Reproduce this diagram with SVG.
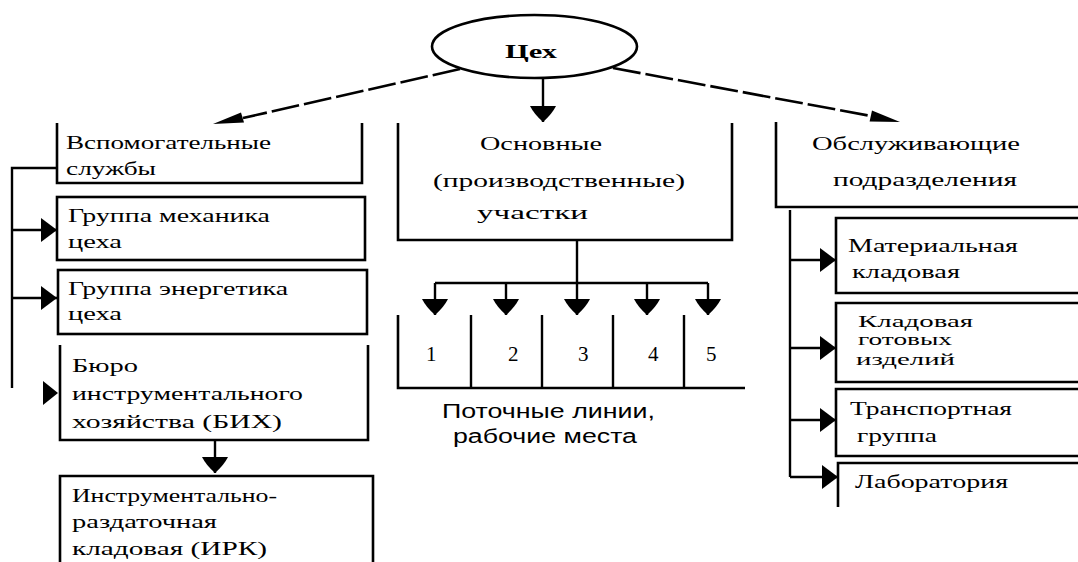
<svg xmlns="http://www.w3.org/2000/svg" width="1078" height="562" viewBox="0 0 1078 562">
<style>
.t{font-family:"Liberation Serif","Times New Roman",serif;font-size:19px;fill:#000}
.s{font-size:16px}
.n{font-family:"Liberation Serif",serif;font-size:21px;fill:#000}
.sans{font-family:"Liberation Sans",Arial,sans-serif;font-size:20px;fill:#000}
.b{fill:none;stroke:#000;stroke-width:2.6}
.c{fill:none;stroke:#000;stroke-width:2.4}
.d{fill:none;stroke:#000;stroke-width:2.6;stroke-dasharray:28 5}
.h{fill:#000}
</style>
<defs>
<marker id="ah" viewBox="0 0 16 24" refX="16" refY="12" markerWidth="16" markerHeight="24" markerUnits="userSpaceOnUse" orient="auto">
<path d="M0,0 L16,12 L0,24 Z" fill="#000"/>
</marker>
<marker id="ad" viewBox="0 0 16 26" refX="16" refY="13" markerWidth="16" markerHeight="26" markerUnits="userSpaceOnUse" orient="auto">
<path d="M0,0 Q8,4 16,13 Q8,22 0,26 Z" fill="#000"/>
</marker>
</defs>
<rect width="1078" height="562" fill="#fff"/>

<g id="connectors">
<path class="d" d="M460,69 L243,118"/>
<polygon class="h" points="213,124 241,112.6 244,122.6"/>
<path class="d" d="M613,68 L871,116"/>
<polygon class="h" points="900,122 869.6,121.6 872,110.6"/>
<path class="c" d="M543,78 L543,122" marker-end="url(#ad)"/>
<path class="c" d="M57,168 L12,168 L12,388"/>
<path class="c" d="M12,230 L57,230" marker-end="url(#ah)"/>
<path class="c" d="M12,298 L57,298" marker-end="url(#ah)"/>
<polygon class="h" points="43,381 58,393 43,405"/>
<path class="c" d="M215,440 L215,473" marker-end="url(#ad)"/>
<path class="c" d="M577,240 L577,283 M435,283 L708,283"/>
<path class="c" d="M435,283 L435,315" marker-end="url(#ad)"/>
<path class="c" d="M506,283 L506,315" marker-end="url(#ad)"/>
<path class="c" d="M577,283 L577,315" marker-end="url(#ad)"/>
<path class="c" d="M647,283 L647,315" marker-end="url(#ad)"/>
<path class="c" d="M708,283 L708,315" marker-end="url(#ad)"/>
<path class="c" d="M790,210 L790,477"/>
<path class="c" d="M790,260 L836,260" marker-end="url(#ah)"/>
<path class="c" d="M790,348 L836,348" marker-end="url(#ah)"/>
<path class="c" d="M790,420 L836,420" marker-end="url(#ah)"/>
<path class="c" d="M790,477 L838,477" marker-end="url(#ah)"/>
</g>

<g id="tseh">
<ellipse class="b" cx="534.5" cy="46.5" rx="102.5" ry="31.5"/>
<text class="t" x="505" y="58" font-size="24" font-weight="bold" textLength="52" lengthAdjust="spacingAndGlyphs">Цех</text>
</g>

<g id="vspom">
<path class="b" d="M57,123 L57,183 L362,183 L362,123"/>
<text class="t" x="66" y="149" textLength="205" lengthAdjust="spacingAndGlyphs">Вспомогательные</text>
<text class="t" x="66" y="175" textLength="90" lengthAdjust="spacingAndGlyphs">службы</text>
</g>

<g id="mech">
<rect class="b" x="57" y="197" width="308" height="63"/>
<text class="t" x="68" y="222" textLength="202" lengthAdjust="spacingAndGlyphs">Группа механика</text>
<text class="t" x="68" y="248" textLength="54" lengthAdjust="spacingAndGlyphs">цеха</text>
</g>

<g id="energ">
<rect class="b" x="58" y="270" width="309" height="64"/>
<text class="t" x="68" y="295" textLength="220" lengthAdjust="spacingAndGlyphs">Группа энергетика</text>
<text class="t" x="68" y="320" textLength="54" lengthAdjust="spacingAndGlyphs">цеха</text>
</g>

<g id="bih">
<path class="b" d="M60,345 L60,440 L368,440 L368,345"/>
<text class="t" x="72" y="372" textLength="66" lengthAdjust="spacingAndGlyphs">Бюро</text>
<text class="t" x="72" y="400" textLength="231" lengthAdjust="spacingAndGlyphs">инструментального</text>
<text class="t" x="72" y="428" textLength="210" lengthAdjust="spacingAndGlyphs">хозяйства (БИХ)</text>
</g>

<g id="irk">
<path class="b" d="M60,564 L60,476 L373,476 L373,564"/>
<text class="t" x="72" y="502" textLength="205" lengthAdjust="spacingAndGlyphs">Инструментально-</text>
<text class="t" x="72" y="528" textLength="145" lengthAdjust="spacingAndGlyphs">раздаточная</text>
<text class="t" x="72" y="555" textLength="195" lengthAdjust="spacingAndGlyphs">кладовая (ИРК)</text>
</g>

<g id="osnovnye">
<path class="b" d="M398,123 L398,240 L732,240 L732,123"/>
<text class="t" x="480" y="150" textLength="122" lengthAdjust="spacingAndGlyphs">Основные</text>
<text class="t" x="433" y="187" textLength="252" lengthAdjust="spacingAndGlyphs">(производственные)</text>
<text class="t" x="477" y="219" textLength="111" lengthAdjust="spacingAndGlyphs">участки</text>
</g>

<g id="linii">
<path class="b" d="M398,315 L398,388 L745,388"/>
<path class="c" d="M471,315 L471,388 M542,315 L542,388 M613,315 L613,388 M684,315 L684,388"/>
<text class="n" x="426" y="361">1</text>
<text class="n" x="508" y="361">2</text>
<text class="n" x="578" y="361">3</text>
<text class="n" x="648" y="361">4</text>
<text class="n" x="706" y="361">5</text>
<text class="sans" x="442" y="418" textLength="213" lengthAdjust="spacingAndGlyphs">Поточные линии,</text>
<text class="sans" x="453" y="443" textLength="184" lengthAdjust="spacingAndGlyphs">рабочие места</text>
</g>

<g id="obsl">
<path class="b" d="M776,122 L776,207 L1080,207"/>
<text class="t" x="812" y="150" textLength="208" lengthAdjust="spacingAndGlyphs">Обслуживающие</text>
<text class="t" x="833" y="186" textLength="184" lengthAdjust="spacingAndGlyphs">подразделения</text>
</g>

<g id="material">
<path class="b" d="M1080,218 L836,218 L836,293 L1080,293"/>
<text class="t" x="848" y="252" textLength="170" lengthAdjust="spacingAndGlyphs">Материальная</text>
<text class="t" x="852" y="278" textLength="108" lengthAdjust="spacingAndGlyphs">кладовая</text>
</g>

<g id="gotovye">
<path class="b" d="M1080,303 L836,303 L836,382 L1080,382"/>
<text class="t s" x="858" y="327" textLength="115" lengthAdjust="spacingAndGlyphs">Кладовая</text>
<text class="t s" x="858" y="345" textLength="94" lengthAdjust="spacingAndGlyphs">готовых</text>
<text class="t s" x="856" y="365" textLength="99" lengthAdjust="spacingAndGlyphs">изделий</text>
</g>

<g id="transport">
<path class="b" d="M1080,389 L836,389 L836,456 L1080,456"/>
<text class="t" x="850" y="415" textLength="162" lengthAdjust="spacingAndGlyphs">Транспортная</text>
<text class="t" x="857" y="442" textLength="80" lengthAdjust="spacingAndGlyphs">группа</text>
</g>

<g id="lab">
<path class="b" d="M838,507 L838,463 L1080,463"/>
<text class="t" x="855" y="488" textLength="153" lengthAdjust="spacingAndGlyphs">Лаборатория</text>
</g>
</svg>
